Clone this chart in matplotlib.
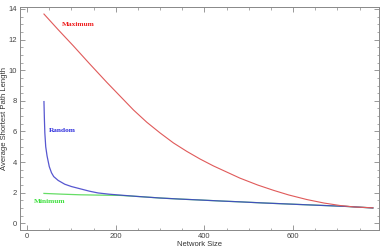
import matplotlib
matplotlib.use("Agg")
import matplotlib.pyplot as plt
from matplotlib.ticker import MultipleLocator

# Maximum series
max_x = [38, 70, 104, 140, 180, 210, 240, 270, 300, 330, 360, 390, 420, 450, 480,
         520, 556, 590, 631, 670, 706, 740, 780]
max_y = [13.67, 12.65, 11.6, 10.45, 9.2, 8.3, 7.4, 6.6, 5.9, 5.25, 4.7, 4.2, 3.75,
         3.35, 2.95, 2.5, 2.15, 1.85, 1.55, 1.32, 1.16, 1.06, 1.01]

# Random series
rnd_x = [38, 39, 40, 42, 45, 50, 55, 60, 70, 85, 100, 120, 140, 160, 185, 210, 250,
         300, 345, 390, 440, 480, 530, 571, 620, 670, 720, 780]
rnd_y = [7.95, 6.8, 5.9, 5.0, 4.4, 3.7, 3.3, 3.05, 2.8, 2.55, 2.4, 2.25, 2.1, 1.98,
         1.9, 1.84, 1.75, 1.65, 1.58, 1.52, 1.45, 1.4, 1.33, 1.28, 1.22, 1.16, 1.1, 1.0]

# Minimum series
min_x = [38, 80, 120, 160, 210, 250, 300, 345, 390, 440, 480, 530, 571, 620, 670, 720, 780]
min_y = [1.95, 1.9, 1.86, 1.84, 1.82, 1.75, 1.65, 1.58, 1.52, 1.45, 1.4, 1.33, 1.28,
         1.22, 1.16, 1.1, 1.0]

labels = ["Maximum", "Random", "Minimum"]
label_x = [115, 79, 50]
label_y = [13.0, 6.03, 1.45]

fig = plt.figure(figsize=(3.82, 2.5), dpi=100)
ax = fig.add_axes([0.0524, 0.08, 0.940, 0.892])

ax.plot(min_x, min_y, color="#66dd66", lw=0.9)
ax.plot(rnd_x, rnd_y, color="#3a3ac8", lw=0.9, alpha=0.85)
ax.plot(max_x, max_y, color="#e05a5a", lw=0.8)

txt_colors = ["#ee2020", "#3030dd", "#40e040"]
for t, x, y, c in zip(labels, label_x, label_y, txt_colors):
    ax.text(x, y, t, color=c, fontsize=5.3, fontweight="bold",
            family="Liberation Serif", ha="center", va="center")

ax.set_xlim(-16, 794)
ax.set_ylim(-0.44, 14.13)
ax.xaxis.set_major_locator(MultipleLocator(200))
ax.xaxis.set_minor_locator(MultipleLocator(50))
ax.yaxis.set_major_locator(MultipleLocator(2))
ax.yaxis.set_minor_locator(MultipleLocator(0.5))
ax.tick_params(which="both", direction="in", top=True, right=True,
               color="#888888", labelsize=5.5, labelcolor="#444444",
               labelfontfamily="Liberation Sans")
ax.tick_params(which="major", length=3.5, width=0.6, pad=2)
ax.tick_params(which="minor", length=1.8, width=0.5)
for s in ax.spines.values():
    s.set_color("#888888")
    s.set_linewidth(0.7)

ax.set_xlabel("Network Size", fontsize=5.5, family="Liberation Sans",
              color="#333333", labelpad=1)
ax.set_ylabel("Average Shortest Path Length", fontsize=5.5, family="Liberation Sans",
              color="#333333", labelpad=0.5)

fig.savefig("out.png", dpi=100)
